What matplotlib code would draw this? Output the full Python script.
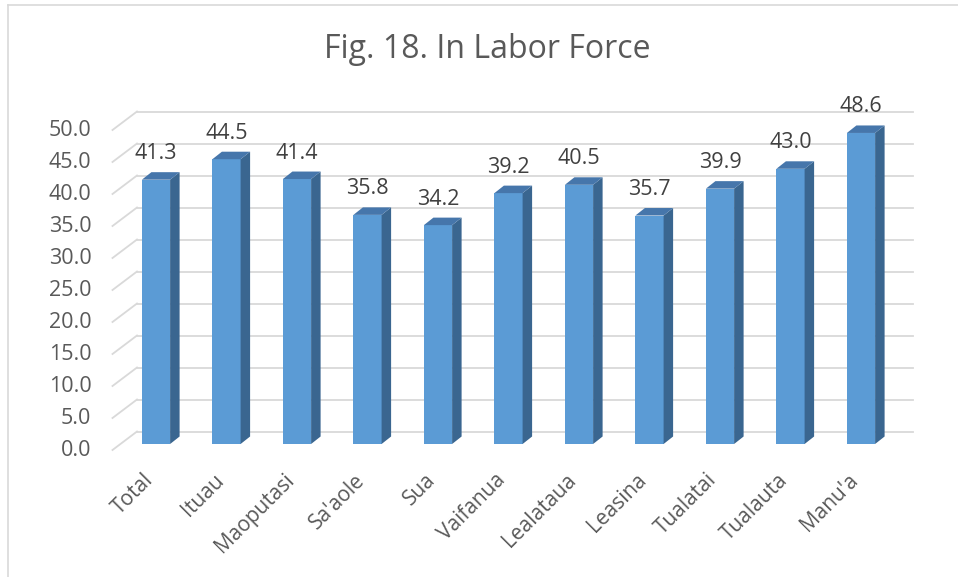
import matplotlib
matplotlib.use("Agg")
import matplotlib.pyplot as plt
from matplotlib.patches import Polygon
import numpy as np

categories = ["Total", "Ituau", "Maoputasi", "Sa'aole", "Sua", "Vaifanua",
              "Lealataua", "Leasina", "Tualatai", "Tualauta", "Manu'a"]
values = [41.3, 44.5, 41.4, 35.8, 34.2, 39.2, 40.5, 35.7, 39.9, 43.0, 48.6]
yticks = [0, 5, 10, 15, 20, 25, 30, 35, 40, 45, 50]
title = "Fig. 18. In Labor Force"

plt.rcParams['font.family'] = ['Open Sans', 'DejaVu Sans']

W, H = 958, 577
fig = plt.figure(figsize=(W / 100, H / 100), dpi=100)
ax = fig.add_axes([0, 0, 1, 1])

# pixel geometry of the pseudo-3D chart
x0_px, step_px = 156.0, 70.5      # first bar centre, category spacing
base_px, unit_px = 444.0, 6.4     # baseline of bar fronts, px per unit
ax.set_xlim((0 - x0_px) / step_px, (W - x0_px) / step_px)
ax.set_ylim((base_px - H) / unit_px, base_px / unit_px)
ax.axis('off')

px = lambda p: p / step_px   # horizontal pixel offset -> data
py = lambda p: p / unit_px   # vertical pixel offset -> data

bw = 0.4
bdx, bdy = px(9.5), py(7.5)        # bar depth
wdx, wdy = px(16.25), py(12.5)     # back wall offset from bar plane
fdx, fdy = px(-8.25), py(-6.0)     # front floor edge offset from bar plane
n = len(categories)
left, right = -0.5, n - 0.5

grid_c = '#D9D9D9'
for g in yticks:
    ax.plot([left + wdx, right + wdx], [g + wdy, g + wdy], color=grid_c, lw=1.3, zorder=1)
    ax.plot([left + fdx, left + wdx], [g + fdy, g + wdy], color=grid_c, lw=1.3, zorder=1)
    ax.text(left + fdx - px(21), g + fdy, f"{g:.1f}", ha='right', va='center',
            fontsize=15.5, color='#595959')

xs = np.arange(n)
ax.bar(xs, values, width=bw, color='#5B9BD5', zorder=3, linewidth=0)
for x, v in zip(xs, values):
    side = Polygon([(x + bw / 2, 0), (x + bw / 2 + bdx, bdy), (x + bw / 2 + bdx, v + bdy),
                    (x + bw / 2, v)], closed=True, facecolor='#3A6690', edgecolor='none', zorder=3)
    top = Polygon([(x - bw / 2, v), (x + bw / 2, v), (x + bw / 2 + bdx, v + bdy),
                   (x - bw / 2 + bdx, v + bdy)], closed=True, facecolor='#4676AB',
                  edgecolor='none', zorder=4)
    ax.add_patch(side)
    ax.add_patch(top)
    ax.text(x, v + bdy + py(8), f"{v:.1f}", ha='center', va='bottom',
            fontsize=15.5, color='#404040', zorder=5)

for x, c in zip(xs, categories):
    ax.text(x - px(6), fdy - py(27), c, rotation=45, rotation_mode='anchor',
            ha='right', va='center', fontsize=15, color='#595959')

ax.text(px(487 - x0_px), base_px / unit_px - py(50), title, ha='center', va='center',
        fontsize=23, color='#595959')

# chart border (left and top)
border_c = '#D9D9D9'
fig.add_artist(plt.Line2D([8 / W, 8 / W], [0, 1 - 5 / H], color=border_c, lw=1.2))
fig.add_artist(plt.Line2D([8 / W, 1], [1 - 5 / H, 1 - 5 / H], color=border_c, lw=1.2))

fig.savefig("out.png", dpi=100)
